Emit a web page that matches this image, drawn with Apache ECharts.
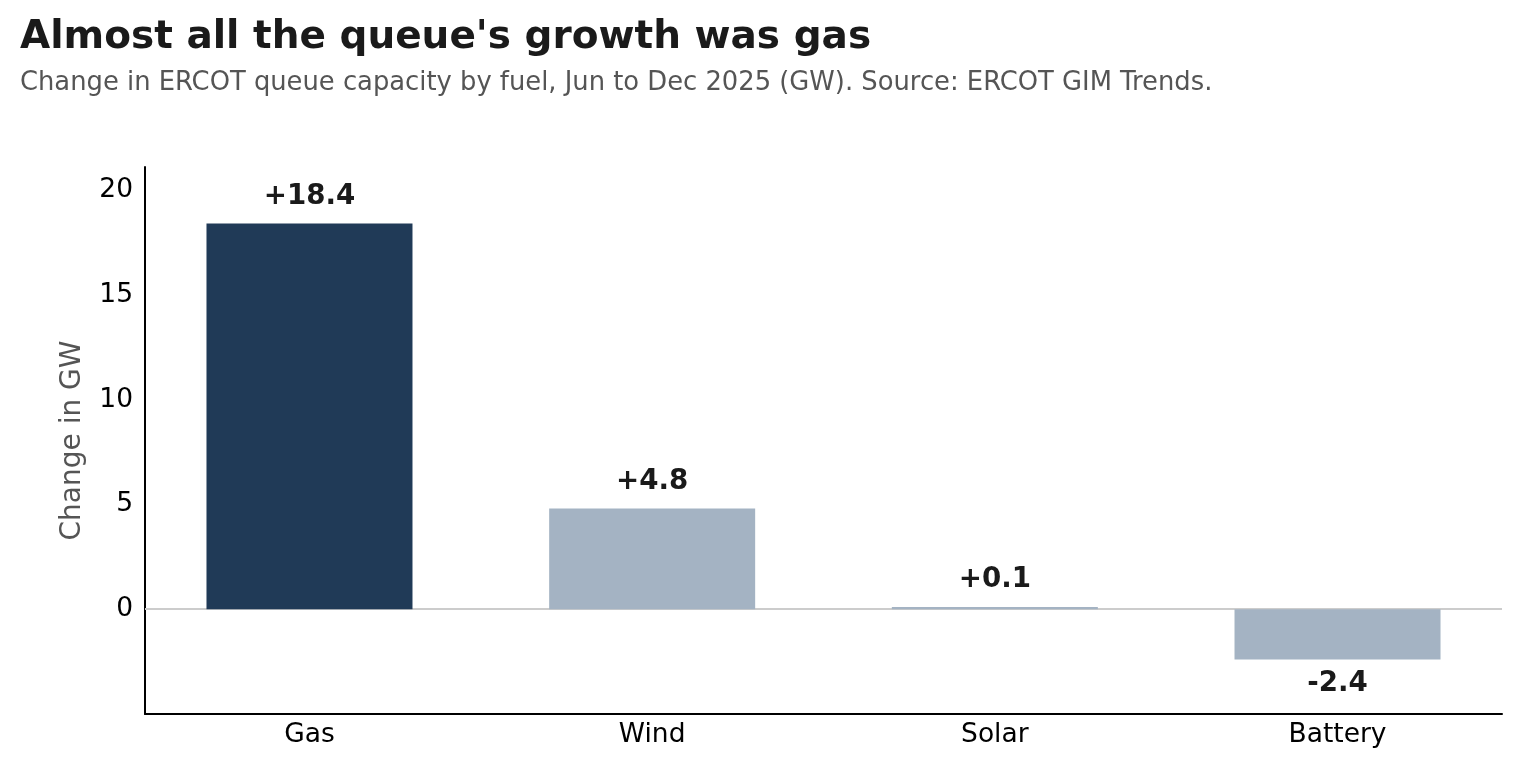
<!DOCTYPE html>
<html>
<head>
<meta charset="utf-8">
<script src="https://cdn.jsdelivr.net/npm/echarts@6/dist/echarts.min.js"></script>
<style>
  html, body { margin: 0; padding: 0; background: #fff; }
  #chart { width: 1522px; height: 771px; }
</style>
</head>
<body>
<div id="chart"></div>
<script>
// data
var fuels = ['Gas', 'Wind', 'Solar', 'Battery'];
var changeGW = [18.4, 4.8, 0.1, -2.4];
var highlight = ['Gas'];
var yTicks = [0, 5, 10, 15, 20];

var DARK = '#203a57';
var LIGHT = '#a4b3c3';
var FONT = 'DejaVu Sans';

var chart = echarts.init(document.getElementById('chart'));

var barData = [];
for (var i = 0; i < fuels.length; i++) {
    var v = changeGW[i];
    barData.push({
        value: [i, v],
        itemStyle: { color: highlight.indexOf(fuels[i]) >= 0 ? DARK : LIGHT },
        // labels sit above positive bars, below negative ones
        label: v < 0 ? { position: 'bottom', distance: 10 } : { position: 'top', distance: 13 }
    });
}

chart.setOption({
    animation: false,
    textStyle: { fontFamily: FONT },
    title: {
        text: "Almost all the queue's growth was gas",
        subtext: 'Change in ERCOT queue capacity by fuel, Jun to Dec 2025 (GW). Source: ERCOT GIM Trends.',
        left: 15,
        top: 13,
        itemGap: 13,
        textStyle: { fontFamily: FONT, fontSize: 39, fontWeight: 'bold', color: '#1a1a1a' },
        subtextStyle: { fontFamily: FONT, fontSize: 25.8, color: '#555555' }
    },
    grid: { left: 145, right: 20, top: 167, bottom: 57 },
    xAxis: {
        type: 'value',
        min: -0.48,
        max: 3.48,
        axisLine: { show: true, onZero: false, lineStyle: { color: '#000', width: 2 } },
        axisTick: { show: false },
        splitLine: { show: false },
        axisLabel: {
            customValues: [0, 1, 2, 3],
            formatter: function (v) { return fuels[Math.round(v)]; },
            fontFamily: FONT, fontSize: 26.5, color: '#000', margin: 8
        }
    },
    yAxis: {
        type: 'value',
        min: -5,
        max: 21.1,
        interval: 5,
        name: 'Change in GW',
        nameLocation: 'middle',
        nameGap: 58,
        nameTextStyle: { fontFamily: FONT, fontSize: 28, color: '#555555' },
        axisLine: { show: true, onZero: false, lineStyle: { color: '#000', width: 2 } },
        axisTick: { show: false },
        splitLine: { show: false },
        axisLabel: {
            formatter: function (v) { return yTicks.indexOf(v) >= 0 ? String(v) : ''; },
            fontFamily: FONT, fontSize: 26.5, color: '#000', margin: 12
        }
    },
    series: [{
        type: 'bar',
        barWidth: 206,
        data: barData,
        label: {
            show: true,
            fontFamily: FONT,
            fontSize: 27.7,
            fontWeight: 'bold',
            color: '#1a1a1a',
            formatter: function (p) {
                var val = p.value[1];
                return (val > 0 ? '+' : '') + val.toFixed(1);
            }
        },
        markLine: {
            silent: true,
            symbol: 'none',
            z: 1,
            label: { show: false },
            lineStyle: { color: '#cccccc', width: 2, type: 'solid' },
            data: [{ yAxis: 0 }]
        }
    }]
});
</script>
</body>
</html>
